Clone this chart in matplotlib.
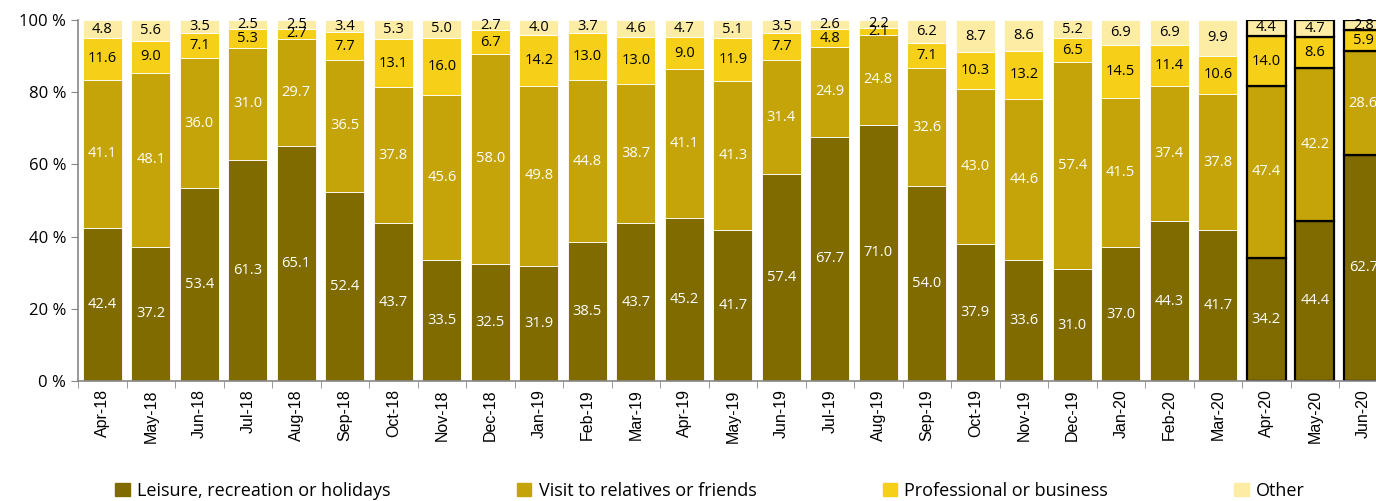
import matplotlib.pyplot as plt
import numpy as np
from matplotlib.patches import Patch

months = ['Apr-18', 'May-18', 'Jun-18', 'Jul-18', 'Aug-18', 'Sep-18', 'Oct-18', 'Nov-18', 'Dec-18',
          'Jan-19', 'Feb-19', 'Mar-19', 'Apr-19', 'May-19', 'Jun-19', 'Jul-19', 'Aug-19', 'Sep-19',
          'Oct-19', 'Nov-19', 'Dec-19', 'Jan-20', 'Feb-20', 'Mar-20', 'Apr-20', 'May-20', 'Jun-20']
leisure = [42.4, 37.2, 53.4, 61.3, 65.1, 52.4, 43.7, 33.5, 32.5, 31.9, 38.5, 43.7, 45.2, 41.7,
           57.4, 67.7, 71.0, 54.0, 37.9, 33.6, 31.0, 37.0, 44.3, 41.7, 34.2, 44.4, 62.7]
visit = [41.1, 48.1, 36.0, 31.0, 29.7, 36.5, 37.8, 45.6, 58.0, 49.8, 44.8, 38.7, 41.1, 41.3,
         31.4, 24.9, 24.8, 32.6, 43.0, 44.6, 57.4, 41.5, 37.4, 37.8, 47.4, 42.2, 28.6]
professional = [11.6, 9.0, 7.1, 5.3, 2.7, 7.7, 13.1, 16.0, 6.7, 14.2, 13.0, 13.0, 9.0, 11.9,
                7.7, 4.8, 2.1, 7.1, 10.3, 13.2, 6.5, 14.5, 11.4, 10.6, 14.0, 8.6, 5.9]
other = [4.8, 5.6, 3.5, 2.5, 2.5, 3.4, 5.3, 5.0, 2.7, 4.0, 3.7, 4.6, 4.7, 5.1,
         3.5, 2.6, 2.2, 6.2, 8.7, 8.6, 5.2, 6.9, 6.9, 9.9, 4.4, 4.7, 2.8]

series = [('Leisure, recreation or holidays', leisure, '#806b00', 'white'),
          ('Visit to relatives or friends', visit, '#c4a408', 'white'),
          ('Professional or business', professional, '#f6d018', 'black'),
          ('Other', other, '#fdeca4', 'black')]

n_highlight = 3  # last months drawn with black outline

fig = plt.figure(figsize=(13.76, 5.01), dpi=100)
# axes runs past the right edge like the original screenshot
ax = fig.add_axes([78 / 1376, 120 / 501, 1309.5 / 1376, 361 / 501])

x = np.arange(len(months))
bottom = np.zeros(len(months))
for name, vals, color, tcol in series:
    vals = np.array(vals)
    edges = ['white'] * (len(months) - n_highlight) + ['black'] * n_highlight
    lws = [0.6] * (len(months) - n_highlight) + [1.6] * n_highlight
    ax.bar(x, vals, 0.8, bottom=bottom, color=color, edgecolor=edges, linewidth=lws)
    for xi, b, v in zip(x, bottom, vals):
        ax.text(xi, b + v / 2, f'{v:.1f}', ha='center', va='center', color=tcol,
                fontsize=10.5, family='Open Sans')
    bottom += vals

ax.set_xlim(-0.5, len(months) - 0.5)
ax.set_ylim(0, 100)
ax.set_yticks(range(0, 101, 20))
ax.set_yticklabels([f'{v} %' for v in range(0, 101, 20)], fontsize=12, family='Open Sans')
ax.set_xticks(x)
ax.set_xticklabels(months, rotation=90, fontsize=11.5, family='Liberation Sans')
ax.set_xticks(np.arange(-0.5, len(months)), minor=True)
ax.tick_params(axis='x', which='major', length=0, pad=6)
ax.tick_params(axis='x', which='minor', length=5, color='#888888')
ax.tick_params(axis='y', length=5, color='#888888')
for s in ['top', 'right']:
    ax.spines[s].set_visible(False)
for s in ['left', 'bottom']:
    ax.spines[s].set_color('#888888')
    ax.spines[s].set_linewidth(1.2)

handles = [Patch(color=c) for _, _, c, _ in series]
fig.legend(handles, [s[0] for s in series], loc='lower left', bbox_to_anchor=(0.072, -0.03),
           ncol=4, frameon=False, prop={'family': 'Open Sans', 'size': 13},
           handlelength=0.8, handleheight=0.8, columnspacing=7.0, handletextpad=0.4)

fig.savefig('out.png', dpi=100)
